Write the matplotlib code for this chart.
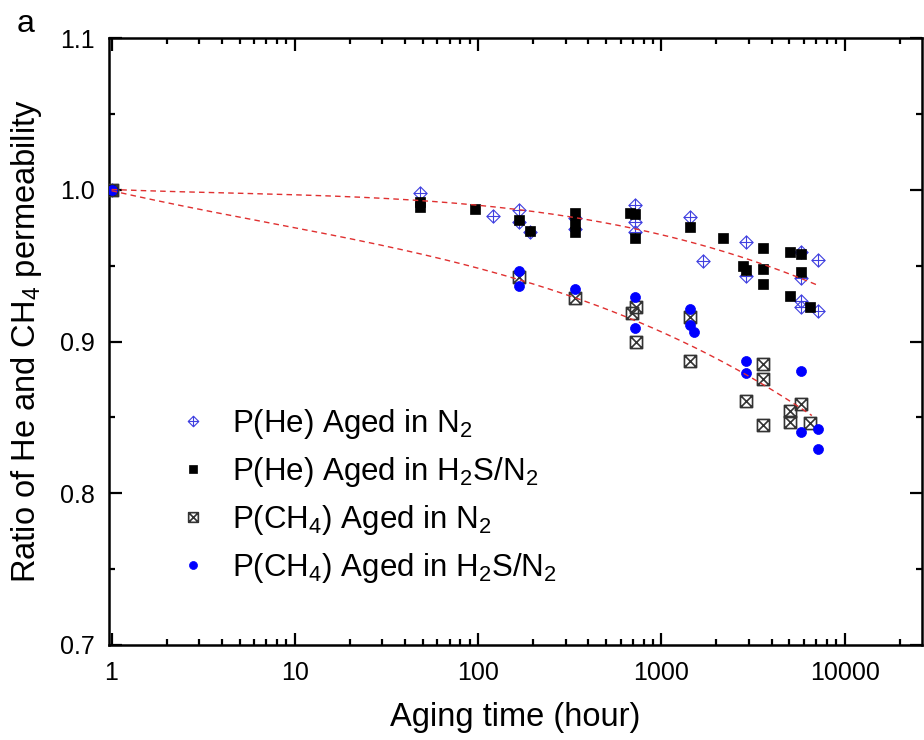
import matplotlib
matplotlib.use("Agg")
import numpy as np
import matplotlib.pyplot as plt
from matplotlib.path import Path
from matplotlib.ticker import (LogLocator, MultipleLocator, FixedLocator,
                               FixedFormatter, FormatStrFormatter)

plt.rcParams['font.family'] = ['Liberation Sans', 'DejaVu Sans']
plt.rcParams['mathtext.fontset'] = 'custom'
plt.rcParams['mathtext.rm'] = 'Liberation Sans'
plt.rcParams['mathtext.it'] = 'Liberation Sans:italic'
plt.rcParams['mathtext.bf'] = 'Liberation Sans:bold'

# Aging time (hours) and normalised permeability for each series
he_n2_t = [1, 48, 120, 168, 168, 192, 336, 336, 720, 720, 720, 1440, 1680,
           2880, 2880, 5760, 5760, 5760, 5760, 7200, 7200]
he_n2_y = [1.0, 0.998, 0.983, 0.987, 0.979, 0.972, 0.9815, 0.974, 0.990, 0.979,
           0.972, 0.982, 0.953, 0.966, 0.943, 0.959, 0.942, 0.927, 0.923, 0.954, 0.920]

he_h2s_t = [1, 48, 48, 96, 168, 192, 336, 336, 336, 672, 720, 720, 1440, 2160,
            2800, 2880, 3600, 3600, 3600, 5040, 5040, 5760, 5760, 6480]
he_h2s_y = [1.0, 0.992, 0.989, 0.9875, 0.980, 0.973, 0.985, 0.978, 0.972, 0.985,
            0.984, 0.968, 0.9756, 0.968, 0.950, 0.947, 0.962, 0.948, 0.938, 0.959,
            0.930, 0.958, 0.946, 0.923]

ch4_n2_t = [1, 168, 336, 690, 730, 730, 1440, 1440, 2880, 3600, 3600, 3600,
            5040, 5040, 5760, 6480]
ch4_n2_y = [1.0, 0.9426, 0.929, 0.919, 0.923, 0.900, 0.916, 0.887, 0.861, 0.885,
            0.875, 0.845, 0.854, 0.847, 0.859, 0.846]

ch4_h2s_t = [1, 168, 168, 336, 720, 720, 1440, 1440, 1500, 2880, 2880, 5760, 5760,
             7200, 7200]
ch4_h2s_y = [1.0, 0.9465, 0.9366, 0.9345, 0.9295, 0.909, 0.9215, 0.911, 0.9065,
             0.887, 0.879, 0.8805, 0.840, 0.842, 0.829]

# Points along the two dashed trend curves
he_fit_t = [1, 4.4, 10, 29, 61.6, 150, 336, 592, 2370, 4040, 7300]
he_fit_y = [1.0, 0.9985, 0.997, 0.995, 0.992, 0.987, 0.981, 0.9764,
            0.959, 0.9505, 0.935]
ch4_fit_t = [1, 4.4, 10, 29, 168, 336, 720, 1250, 2670, 5400, 6630]
ch4_fit_y = [1.0, 0.9824, 0.975, 0.964, 0.942, 0.9296, 0.9124, 0.901, 0.880,
             0.858, 0.852]

labels = ['P(He) Aged in N$_\\mathrm{2}$',
          'P(He) Aged in H$_\\mathrm{2}$S/N$_\\mathrm{2}$',
          'P(CH$_\\mathrm{4}$) Aged in N$_\\mathrm{2}$',
          'P(CH$_\\mathrm{4}$) Aged in H$_\\mathrm{2}$S/N$_\\mathrm{2}$']

# Custom marker glyphs: diamond with a plus, square with a cross
M, L, C = Path.MOVETO, Path.LINETO, Path.CLOSEPOLY
diamond_plus = Path([(0, 1), (1, 0), (0, -1), (-1, 0), (0, 1),
                     (0, 1), (0, -1), (-1, 0), (1, 0)],
                    [M, L, L, L, C, M, L, M, L])
square_cross = Path([(-1, -1), (1, -1), (1, 1), (-1, 1), (-1, -1),
                     (-1, -1), (1, 1), (-1, 1), (1, -1)],
                    [M, L, L, L, C, M, L, M, L])

fig = plt.figure(figsize=(9.24, 7.40), dpi=100)
ax = fig.add_axes([0.118, 0.129, 0.880, 0.819])

ax.plot(he_n2_t, he_n2_y, ls='none', marker=diamond_plus, ms=9.5,
        mfc='none', mec='#4040e0', mew=0.8, label=labels[0], zorder=3)
ax.plot(he_h2s_t, he_h2s_y, ls='none', marker='s', ms=7.5,
        mfc='black', mec='black', mew=0.5, label=labels[1], zorder=4)
ax.plot(ch4_n2_t, ch4_n2_y, ls='none', marker=square_cross, ms=8.7,
        mfc='none', mec='#333333', mew=1.2, label=labels[2], zorder=5)
ax.plot(ch4_h2s_t, ch4_h2s_y, ls='none', marker='o', ms=7.2,
        mfc='#0000ff', mec='#0000ff', mew=0.5, label=labels[3], zorder=6)

# Smooth trend: cubic in log(time) through the traced curve points
for ft, fy in ((he_fit_t, he_fit_y), (ch4_fit_t, ch4_fit_y)):
    coef = np.polyfit(np.log10(ft), fy, 3)
    tt = np.geomspace(ft[0], ft[-1], 300)
    ax.plot(tt, np.polyval(coef, np.log10(tt)), color='#e03030', lw=1.0,
            ls=(0, (4, 3)), zorder=7)

ax.set_xscale('log')
ax.set_xlim(0.969, 26500)
ax.set_ylim(0.7, 1.1)

ax.xaxis.set_major_locator(FixedLocator([1, 10, 100, 1000, 10000]))
ax.xaxis.set_major_formatter(FixedFormatter(['1', '10', '100', '1000', '10000']))
ax.xaxis.set_minor_locator(LogLocator(base=10, subs=range(2, 10), numticks=20))
ax.yaxis.set_major_locator(MultipleLocator(0.1))
ax.yaxis.set_minor_locator(MultipleLocator(0.05))
ax.yaxis.set_major_formatter(FormatStrFormatter('%.1f'))

ax.tick_params(which='both', direction='in', top=True, right=True, width=1.6,
               labelsize=18)
ax.tick_params(which='major', length=9)
ax.tick_params(which='minor', length=4.5)
ax.tick_params(axis='y', pad=10)
ax.tick_params(axis='x', pad=12)
for s in ax.spines.values():
    s.set_linewidth(1.8)

ax.set_xlabel('Aging time (hour)', fontsize=23.5, labelpad=12)
ax.set_ylabel('Ratio of He and CH$_\\mathrm{4}$ permeability', fontsize=23.5,
              labelpad=12)

ax.legend(loc='upper left', bbox_to_anchor=(0.084, 0.392), frameon=False,
          fontsize=22.5, markerscale=0.8, handletextpad=0.75, labelspacing=0.45,
          handlelength=1.0, borderpad=0, borderaxespad=0)

fig.text(0.018, 0.957, 'a', fontsize=23, va='baseline', ha='left')

fig.savefig('out.png', dpi=100)
